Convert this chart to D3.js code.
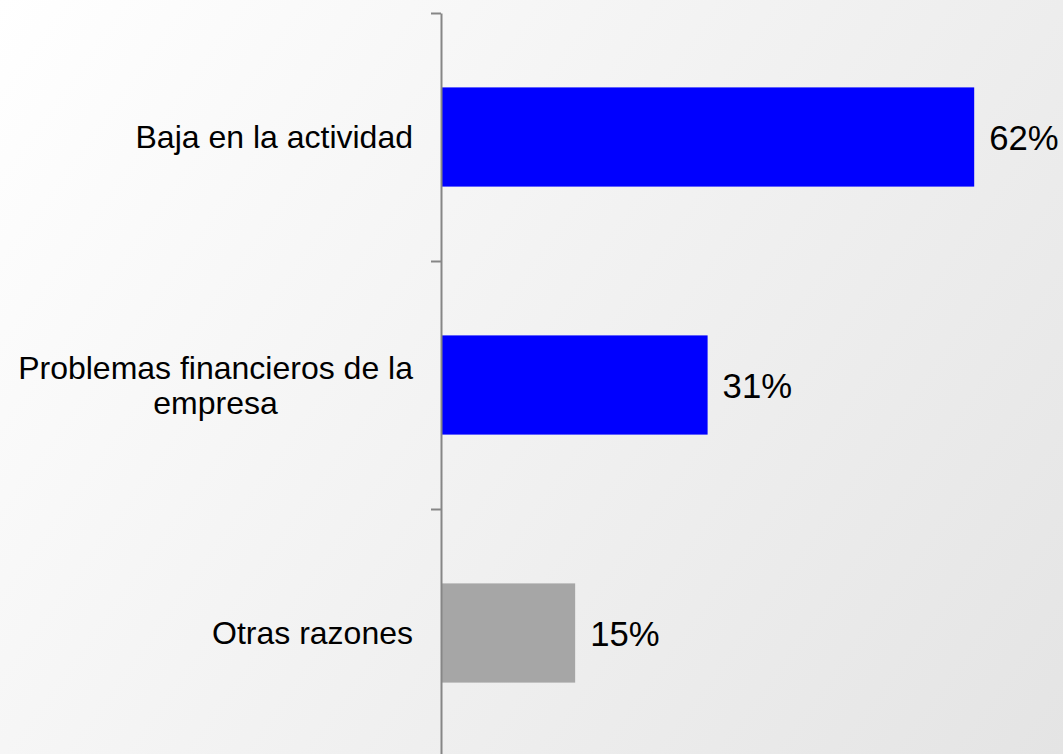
<!DOCTYPE html>
<html>
<head>
<meta charset="utf-8">
<script src="https://cdnjs.cloudflare.com/ajax/libs/d3/7.8.5/d3.min.js"></script>
<style>
    html, body { margin: 0; padding: 0; overflow: hidden; }
    svg { display: block; }
</style>
</head>
<body>
<div id="barChart"></div>
<script>
// ------------------------------------------------------
// VARIABLES
// ------------------------------------------------------

var categorias = ['Baja en la actividad', 'Problemas financieros de la empresa', 'Otras razones'];
var porcentajes = [62, 31, 15.6];
var etiquetas = ['62%', '31%', '15%'];
var colores = ['#0000ff', '#0000ff', '#a6a6a6'];

var width = 1063;
var height = 754;
var ejeX = 441;
var fuente = '"Liberation Sans", Arial, sans-serif';

// ------------------------------------------------------
// DRAW CHART
// ------------------------------------------------------

barChart();

function barChart() {
    var svg = d3.select('#barChart')
        .append('svg')
        .attr('width', width)
        .attr('height', height);

    // fondo degradado
    var grad = svg.append('defs')
        .append('linearGradient')
        .attr('id', 'fondo')
        .attr('gradientUnits', 'userSpaceOnUse')
        .attr('x1', 0).attr('y1', 0)
        .attr('x2', width).attr('y2', height);
    grad.append('stop').attr('offset', '0%').attr('stop-color', '#ffffff');
    grad.append('stop').attr('offset', '100%').attr('stop-color', '#e4e4e4');

    svg.append('rect')
        .attr('width', width)
        .attr('height', height)
        .attr('fill', 'url(#fondo)');

    var x = d3.scaleLinear()
        .domain([0, 70])
        .range([ejeX, ejeX + 70 * 8.6]);

    var y = d3.scaleBand()
        .domain(categorias)
        .range([13, 757])
        .paddingInner(0.6)
        .paddingOuter(0.3);

    // ticks between categories
    var yTicks = d3.scaleLinear()
        .domain([0, categorias.length])
        .range([13, 757]);

    svg.selectAll('.barra')
        .data(categorias)
        .enter()
        .append('rect')
        .attr('class', 'barra')
        .attr('x', x(0))
        .attr('y', function (d) { return y(d); })
        .attr('width', function (d, i) { return x(porcentajes[i]) - x(0); })
        .attr('height', y.bandwidth())
        .attr('fill', function (d, i) { return colores[i]; });

    var eje = svg.append('g')
        .attr('transform', 'translate(' + ejeX + ',0)')
        .call(d3.axisLeft(yTicks)
            .tickValues(d3.range(categorias.length + 1))
            .tickFormat('')
            .tickSize(10)
            .tickSizeOuter(0));
    eje.select('.domain').attr('stroke', '#868686').attr('stroke-width', 2);
    eje.selectAll('.tick line').attr('stroke', '#868686').attr('stroke-width', 2);

    // valores
    svg.selectAll('.valor')
        .data(categorias)
        .enter()
        .append('text')
        .attr('class', 'valor')
        .attr('x', function (d, i) { return x(porcentajes[i]) + 15; })
        .attr('y', function (d) { return y(d) + y.bandwidth() / 2; })
        .attr('dy', '0.37em')
        .style('font-family', fuente)
        .style('font-size', '34.7px')
        .attr('fill', '#000')
        .text(function (d, i) { return etiquetas[i]; });

    // categorias
    categorias.forEach(function (c) {
        var lineas = wrap(svg, c, 400);
        var txt = svg.append('text')
            .style('font-family', fuente)
            .style('font-size', '32px')
            .attr('fill', '#000')
            .attr('text-anchor', 'middle');
        var spans = lineas.map(function (l) { return txt.append('tspan').text(l); });
        var maxW = d3.max(spans, function (s) { return s.node().getComputedTextLength(); });
        var cx = 413 - maxW / 2;
        var cy = y(c) + y.bandwidth() / 2;
        var lh = 35;
        spans.forEach(function (s, i) {
            s.attr('x', cx)
             .attr('y', cy + 11.3 - (lineas.length - 1) * lh / 2 + i * lh);
        });
    });
}

// ADDITIONAL FUNCTIONS

function wrap(svg, texto, maxAncho) {
    var medida = svg.append('text')
        .style('font-family', fuente)
        .style('font-size', '32px');
    var palabras = texto.split(' ');
    var lineas = [];
    var actual = '';
    palabras.forEach(function (p) {
        var prueba = actual ? actual + ' ' + p : p;
        medida.text(prueba);
        if (medida.node().getComputedTextLength() > maxAncho && actual) {
            lineas.push(actual);
            actual = p;
        } else actual = prueba;
    });
    lineas.push(actual);
    medida.remove();
    return lineas;
}
</script>
</body>
</html>
